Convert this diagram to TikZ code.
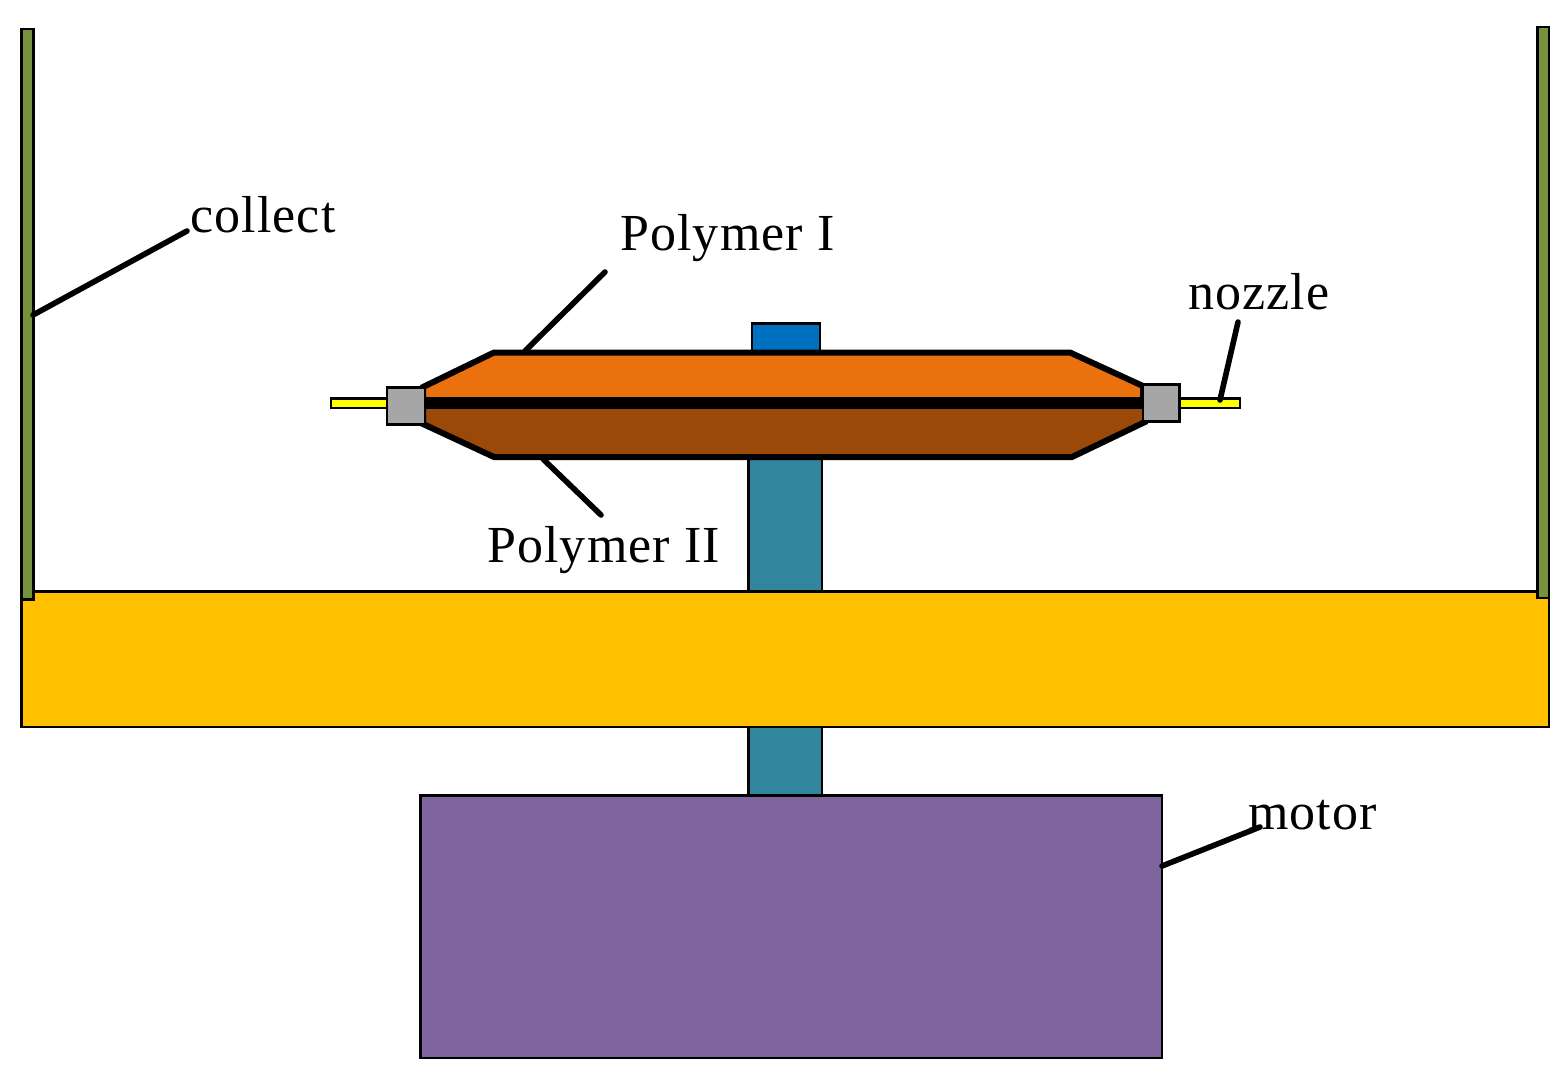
\documentclass[tikz,border=0pt]{standalone}
\usepackage{fontspec}
\setmainfont[LetterSpace=2.2]{Liberation Serif}
\definecolor{wallgreen}{HTML}{76923C}
\definecolor{plategold}{HTML}{FFC000}
\definecolor{shaftteal}{HTML}{31859C}
\definecolor{motorpurple}{HTML}{7F659E}
\definecolor{capblue}{HTML}{0070C0}
\definecolor{upperorange}{HTML}{EB700E}
\definecolor{lowerbrown}{HTML}{9A4909}
\definecolor{joingray}{HTML}{A6A6A6}
\definecolor{nozzleyellow}{HTML}{FFFF00}
\tikzset{
  x=1pt,y=-1pt,
  part/.style={draw=black,line width=2.7pt,line join=miter},
  body/.style={draw=black,line width=6pt,line join=miter},
  leader/.style={draw=black,line width=5.6pt,line cap=round},
  lbl/.style={anchor=base west,inner sep=0pt,font=\fontsize{52}{52}\selectfont}
}
\newcommand{\boxpart}[6]{% name, fill, x0,y0,x1,y1
  \path[part,fill=#2] (#3,#4) coordinate (#1-nw) rectangle (#5,#6) coordinate (#1-se);
}
\begin{document}
\begin{tikzpicture}
\useasboundingbox (0,0) rectangle (1566,1081);
% nozzle tubes
\boxpart{tubeL}{nozzleyellow}{331}{398.5}{388}{408}
\boxpart{tubeR}{nozzleyellow}{1178}{398.5}{1240}{408}
% shaft and cap
\boxpart{shaft}{shaftteal}{748.5}{440}{822}{800}
\boxpart{cap}{capblue}{752}{323.5}{820}{355}
% plate, walls, motor
\boxpart{wallL}{wallgreen}{21.5}{29}{33.5}{599.5}
\boxpart{wallR}{wallgreen}{1537.5}{27}{1549}{598}
\boxpart{plate}{plategold}{21.5}{591.5}{1549}{727}
\boxpart{motor}{motorpurple}{420.5}{795.5}{1162}{1058}
\fill[wallgreen] (23,585) rectangle (32,598);
\draw[black,line width=2.7pt] (21.5,590) -- (21.5,599.5) -- (33.5,599.5) -- (33.5,590);
\fill[wallgreen] (1539,585) rectangle (1547.5,596.5);
\draw[black,line width=2.7pt] (1537.5,590) -- (1537.5,598) -- (1549,598) -- (1549,590);
% reservoir
\path[body,fill=upperorange] (423,387) -- (494,352.5) -- (1070,352.5) -- (1143,386) -- (1143,403) -- (423,403) -- cycle;
\path[body,fill=lowerbrown] (423,424) -- (494,457) -- (1072,457) -- (1145,422) -- (1145,403) -- (423,403) -- cycle;
\fill[black] (423,397) rectangle (1145,409);
% junctions
\boxpart{joinL}{joingray}{387}{387.5}{425}{424.5}
\boxpart{joinR}{joingray}{1143}{384.5}{1179.5}{421.5}
% labels
\node[lbl] (collect) at (190,232) {collect};
\node[lbl] (polyI) at (620,250) {Polymer I};
\node[lbl] (nozzle) at (1188,309) {nozzle};
\node[lbl] (polyII) at (487,562) {Polymer II};
\node[lbl] (motorlbl) at (1248,829) {motor};
% leaders
\coordinate (collectA) at (187,231); \coordinate (collectB) at (33,315);
\coordinate (polyIA) at (605,272); \coordinate (polyIB) at (525,351);
\coordinate (polyIIA) at (601,515); \coordinate (polyIIB) at (543,459);
\coordinate (nozzleA) at (1238,322); \coordinate (nozzleB) at (1220,400);
\coordinate (motorA) at (1260,827); \coordinate (motorB) at (1162,866);
\draw[leader] (collectA) -- (collectB);
\draw[leader] (polyIA) -- (polyIB);
\draw[leader] (polyIIA) -- (polyIIB);
\draw[leader] (nozzleA) -- (nozzleB);
\draw[leader] (motorA) -- (motorB);
\end{tikzpicture}
\end{document}
